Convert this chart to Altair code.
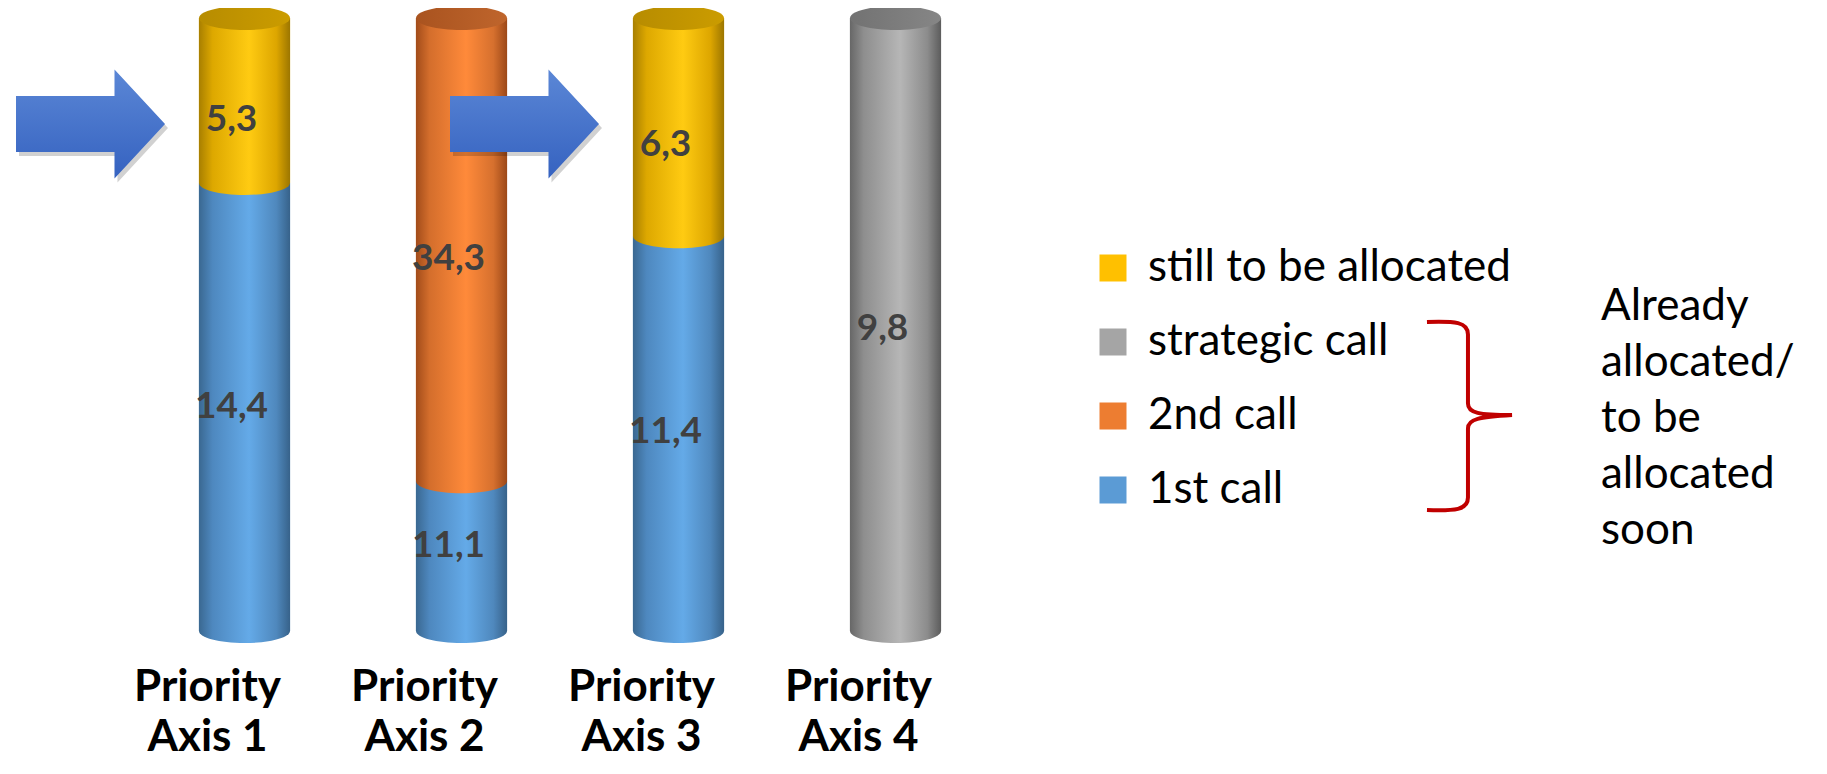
import altair as alt
import pandas as pd

# ---------------- data ----------------
axes = ["Priority Axis 1", "Priority Axis 2", "Priority Axis 3", "Priority Axis 4"]
series_bottom_up = ["1st call", "2nd call", "strategic call", "still to be allocated"]
first_call = [14.4, 11.1, 11.4, 0.0]
second_call = [0.0, 34.3, 0.0, 0.0]
strategic_call = [0.0, 0.0, 0.0, 9.8]
still_to_allocate = [5.3, 0.0, 6.3, 0.0]

legend_order = ["still to be allocated", "strategic call", "2nd call", "1st call"]
legend_colors = ["#FFC000", "#A5A5A5", "#ED7D31", "#5B9BD5"]

arrow_targets = ["Priority Axis 1", "Priority Axis 3"]
arrow_level = 0.827

note_lines = ["Already", "allocated/", "to be", "allocated", "soon"]

values_by_series = {
    "1st call": first_call,
    "2nd call": second_call,
    "strategic call": strategic_call,
    "still to be allocated": still_to_allocate,
}
rows = []
for order, s in enumerate(series_bottom_up):
    for a, v in zip(axes, values_by_series[s]):
        rows.append({"axis": a, "series": s, "value": v, "order": order})
df = pd.DataFrame(rows)
arrow_df = pd.DataFrame({"axis": arrow_targets, "level": [arrow_level] * len(arrow_targets)})

# ---------------- styles ----------------
def hgrad(stops):
    return alt.Gradient(
        gradient="linear", x1=0, y1=0, x2=1, y2=0,
        stops=[alt.GradientStop(offset=o, color=c) for o, c in stops],
    )

body_grad = {
    "1st call": hgrad([(0, "#3A6891"), (0.15, "#4E88BF"), (0.55, "#64AAE8"), (0.85, "#4F88BD"), (1, "#37628A")]),
    "2nd call": hgrad([(0, "#A24C1A"), (0.15, "#D46E2C"), (0.55, "#FF8A3A"), (0.85, "#D6702E"), (1, "#9C4818")]),
    "strategic call": hgrad([(0, "#676767"), (0.15, "#8E8E8E"), (0.55, "#B6B6B6"), (0.85, "#8C8C8C"), (1, "#5C5C5C")]),
    "still to be allocated": hgrad([(0, "#A87F00"), (0.15, "#DDA800"), (0.55, "#FFCB12"), (0.85, "#DDA600"), (1, "#9C7600")]),
}
cap_grad = {
    "1st call": hgrad([(0, "#3F6E9A"), (1, "#4E82B2")]),
    "2nd call": hgrad([(0, "#A9531F"), (1, "#BF652C")]),
    "strategic call": hgrad([(0, "#727272"), (1, "#868686")]),
    "still to be allocated": hgrad([(0, "#B78C00"), (1, "#CB9C00")]),
}

ELLIPSE = ("M -1 0 C -1 -0.1458 -0.5523 -0.264 0 -0.264 C 0.5523 -0.264 1 -0.1458 1 0 "
           "C 1 0.1458 0.5523 0.264 0 0.264 C -0.5523 0.264 -1 0.1458 -1 0 Z")
ARROW = ("M -3.067 -0.376 L -1.745 -0.376 L -1.745 -0.732 L -1.067 0 L -1.745 0.732 "
         "L -1.745 0.376 L -3.067 0.376 Z")
ARROW_SHADOW = ("M -3.027 -0.322 L -1.705 -0.322 L -1.705 -0.678 L -1.027 0.054 L -1.705 0.786 "
                "L -1.705 0.430 L -3.027 0.430 Z")
BRACE = ("M -0.443 -0.98 C -0.15 -0.99 -0.016 -0.98 -0.016 -0.85 L -0.016 -0.13 "
         "C -0.016 -0.03 0.1 -0.01 0.443 -0.01 "
         "C 0.1 0.01 -0.016 0.03 -0.016 0.13 L -0.016 0.85 "
         "C -0.016 0.98 -0.15 0.99 -0.443 0.98")

FONT = "Lato"

x_enc = alt.X(
    "axis:N",
    sort=axes,
    scale=alt.Scale(domain=axes, paddingInner=0.58, paddingOuter=0.29),
    axis=alt.Axis(
        title=None,
        labelExpr="['Priority', replace(datum.value, 'Priority ', '')]",
        labelFont=FONT, labelFontSize=44, labelFontWeight="bold", labelColor="black",
        labelPadding=34, labelLineHeight=50, labelAngle=0, labelLimit=300,
        labelOffset=-37,
        domain=False, ticks=False, grid=False,
    ),
)
y_scale = alt.Scale(domain=[0, 1], nice=False)

base = (
    alt.Chart(df)
    .transform_filter(alt.datum.value > 0)
    .transform_stack(
        stack="value", as_=["v0", "v1"], groupby=["axis"],
        sort=[alt.SortField("order", order="ascending")], offset="normalize",
    )
    .transform_calculate(
        mid="(datum.v0 + datum.v1) / 2",
        label="replace(format(datum.value, '.1f'), '.', ',')",
    )
    .transform_calculate(lab="datum.mid * 0.936 + 0.024")
)

layers = []
# solid base bars carrying the legend
layers.append(
    base.mark_bar(strokeWidth=0).encode(
        x=x_enc,
        y=alt.Y("v0:Q", scale=y_scale, axis=None),
        y2="v1:Q",
        color=alt.Color(
            "series:N",
            scale=alt.Scale(domain=legend_order, range=legend_colors),
            legend=alt.Legend(
                title=None, orient="none", legendX=955, legendY=228,
                symbolType="square", symbolSize=729, symbolStrokeWidth=0, symbolOpacity=1,
                labelFont=FONT, labelFontSize=44, labelColor="black", labelLimit=600,
                rowPadding=30, labelOffset=13, padding=0,
            ),
        ),
    )
)
# cylinder bodies
for s in series_bottom_up:
    layers.append(
        base.transform_filter(alt.datum.series == s)
        .mark_bar(fill=body_grad[s], strokeWidth=0)
        .encode(x=x_enc, y=alt.Y("v0:Q", scale=y_scale, axis=None), y2="v1:Q")
    )
# rounded bottom of each segment
for s in series_bottom_up:
    layers.append(
        base.transform_filter(alt.datum.series == s)
        .mark_point(shape=ELLIPSE, size=8281, filled=True, fill=body_grad[s], strokeWidth=0, opacity=1)
        .encode(x=x_enc, y=alt.Y("v0:Q", scale=y_scale, axis=None))
    )
# top caps
for s in series_bottom_up:
    layers.append(
        base.transform_filter((alt.datum.series == s) & (alt.datum.v1 > 0.999))
        .mark_point(shape=ELLIPSE, size=8281, filled=True, fill=cap_grad[s], strokeWidth=0, opacity=1)
        .encode(x=x_enc, y=alt.Y("v1:Q", scale=y_scale, axis=None))
    )
# value labels
layers.append(
    base.mark_text(font=FONT, fontSize=37, fontWeight="bold", color="#404040", dx=-13, baseline="middle")
    .encode(x=x_enc, y=alt.Y("lab:Q", scale=y_scale, axis=None), text="label:N")
)
# arrows
arrow_grad = alt.Gradient(
    gradient="linear", x1=0, y1=0, x2=0, y2=1,
    stops=[alt.GradientStop(offset=0, color="#5B87D6"), alt.GradientStop(offset=1, color="#3562C0")],
)
layers.append(
    alt.Chart(arrow_df)
    .mark_point(shape=ARROW_SHADOW, size=22201, filled=True, fill="#000000", strokeWidth=0, opacity=0.18)
    .encode(x=x_enc, y=alt.Y("level:Q", scale=y_scale, axis=None))
)
layers.append(
    alt.Chart(arrow_df)
    .mark_point(shape=ARROW, size=22201, filled=True, fill=arrow_grad, strokeWidth=0, opacity=1)
    .encode(x=x_enc, y=alt.Y("level:Q", scale=y_scale, axis=None))
)
# brace
one = pd.DataFrame({"k": [0]})
layers.append(
    alt.Chart(one)
    .mark_point(shape=BRACE, size=36864, filled=False, stroke="#C00000", strokeWidth=4, opacity=1)
    .encode(x=alt.value(1333.5), y=alt.value(398))
)
# note text
layers.append(
    alt.Chart(one)
    .mark_text(text=note_lines, font=FONT, fontSize=44, lineHeight=56, align="left",
               baseline="alphabetic", color="black")
    .encode(x=alt.value(1465), y=alt.value(302))
)

chart = (
    alt.layer(*layers)
    .properties(
        width=868, height=613,
        padding={"left": 128, "top": 10, "right": 815, "bottom": 135},
        autosize=alt.AutoSizeParams(type="none"),
        background="white",
    )
    .configure_view(strokeWidth=0)
)

chart.save("out.html", embed_options={"renderer": "svg", "actions": False})
